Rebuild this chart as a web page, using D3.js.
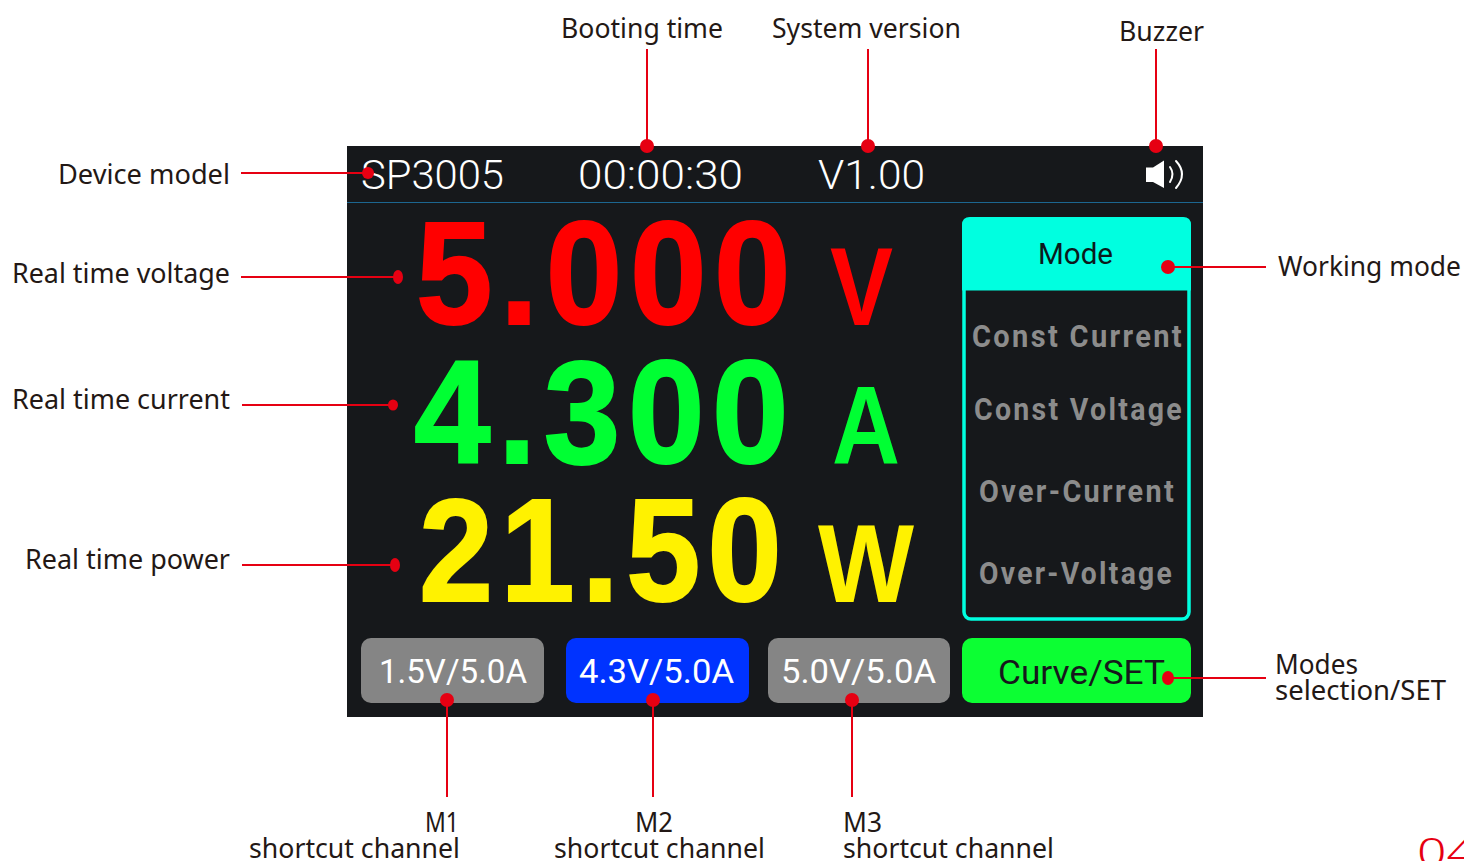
<!DOCTYPE html>
<html>
<head>
<meta charset="utf-8">
<script src="https://cdn.jsdelivr.net/npm/d3@7"></script>
<style>
html, body { margin: 0; padding: 0; background: #fff; overflow: hidden; }
svg { display: block; }
</style>
</head>
<body>
<svg id="graph" width="1464" height="861"></svg>
<script>
// values shown on the screen
const deviceModel = 'SP3005';
const bootTime = '00:00:30';
const sysVersion = 'V1.00';
const readings = [5.000, 4.300, 21.50];
const readingDigits = [3, 3, 2];
const units = ['V', 'A', 'W'];
const modeTitle = 'Mode';
const modes = ['Const Current', 'Const Voltage', 'Over-Current', 'Over-Voltage'];
const presets = ['1.5V/5.0A', '4.3V/5.0A', '5.0V/5.0A'];
const setLabel = 'Curve/SET';
const leftLabels = ['Device model', 'Real time voltage', 'Real time current', 'Real time power'];
const topLabels = ['Booting time', 'System version', 'Buzzer'];
const bottomLabels = ['M1', 'M2', 'M3'];
const bottomSub = 'shortcut channel';
const pageNumber = '04';

const RED = '#e60012';
const INK = '#231815';
const TEAL = '#00ffe0';
const LABEL_FONT = '"Noto Sans", sans-serif';
const SCREEN_FONT = 'Roboto, sans-serif';
const DIGIT_FONT = '"Liberation Sans", sans-serif';

const svg = d3.select('#graph');
const screen = svg.append('g');
const notes = svg.append('g');

// text squeezed to the width it has in the picture
function label(parent, str, x, y, w, size, fill, font, weight) {
  return parent.append('text')
    .attr('x', x)
    .attr('y', y)
    .attr('textLength', w)
    .attr('lengthAdjust', 'spacingAndGlyphs')
    .attr('font-family', font)
    .attr('font-size', size)
    .attr('font-weight', weight || 400)
    .attr('fill', fill)
    .text(str);
}

// screen background
screen.append('rect').attr('x', 347).attr('y', 146).attr('width', 856).attr('height', 571).attr('fill', '#16181b');
screen.append('rect').attr('x', 347).attr('y', 202).attr('width', 856).attr('height', 1).attr('fill', '#1c6690');

// top bar
label(screen, deviceModel, 361, 189, 143, 40, '#fff', SCREEN_FONT, 300);
label(screen, bootTime, 578, 189, 165, 40, '#fff', SCREEN_FONT, 300);
label(screen, sysVersion, 818, 189, 107, 40, '#fff', SCREEN_FONT, 300);

// buzzer icon
screen.append('path')
  .attr('d', 'M1146 167.5 L1153 167.5 L1164 160.5 L1164 188 L1153 182 L1146 182 Z')
  .attr('fill', '#fff');
screen.append('path')
  .attr('d', 'M1170 167 Q1175 174 1170 182 M1176 161 Q1188 174 1176 188')
  .attr('fill', 'none').attr('stroke', '#fff').attr('stroke-width', 2).attr('stroke-linecap', 'round');

// big readings, stroked a little because the original digits are heavier
const readingColors = ['#ff0000', '#00ff33', '#fff200'];
const readingLayout = [
  { x: 416, y: 324, w: 382, ux: 830, uw: 63 },
  { x: 414, y: 463, w: 382, ux: 832, uw: 68 },
  { x: 419, y: 601, w: 370, ux: 818, uw: 96 }
];
readings.forEach((v, i) => {
  const p = readingLayout[i];
  label(screen, d3.format(`.${readingDigits[i]}f`)(v), p.x, p.y, p.w, 146, readingColors[i], DIGIT_FONT, 700)
    .attr('letter-spacing', 8)
    .attr('stroke', readingColors[i])
    .attr('stroke-width', 2);
  label(screen, units[i], p.ux, p.y + 1, p.uw, 112, readingColors[i], DIGIT_FONT, 700);
});

// mode panel
screen.append('rect').attr('x', 964).attr('y', 219).attr('width', 225).attr('height', 400)
  .attr('rx', 7).attr('fill', 'none').attr('stroke', TEAL).attr('stroke-width', 3.5);
screen.append('path')
  .attr('d', 'M962 290.5 L962 225 Q962 217 970 217 L1183 217 Q1191 217 1191 225 L1191 290.5 Z')
  .attr('fill', TEAL);
label(screen, modeTitle, 1038, 264, 75, 29, '#0b1a1c', SCREEN_FONT, 400);

const modeLayout = [
  { x: 972, y: 347, w: 212 },
  { x: 974, y: 420, w: 210 },
  { x: 979, y: 502, w: 197 },
  { x: 979, y: 584, w: 195 }
];
modes.forEach((m, i) => {
  label(screen, m, modeLayout[i].x, modeLayout[i].y, modeLayout[i].w, 31, '#8c8c8c', SCREEN_FONT, 700)
    .attr('letter-spacing', 2.5);
});

// bottom buttons
const presetLayout = [
  { x: 361, w: 183, fill: '#858585', tx: 379, tw: 148 },
  { x: 566, w: 183, fill: '#0033ff', tx: 579, tw: 155 },
  { x: 768, w: 182, fill: '#858585', tx: 781, tw: 155 }
];
presets.forEach((t, i) => {
  const p = presetLayout[i];
  screen.append('rect').attr('x', p.x).attr('y', 638).attr('width', p.w).attr('height', 65).attr('rx', 10).attr('fill', p.fill);
  label(screen, t, p.tx, 683, p.tw, 34, '#fff', SCREEN_FONT, 400);
});
screen.append('rect').attr('x', 962).attr('y', 638).attr('width', 229).attr('height', 65).attr('rx', 10).attr('fill', '#0cff33');
label(screen, setLabel, 998, 684, 167, 34, '#16181b', SCREEN_FONT, 400);

// callouts
function callout(x1, y1, x2, y2, rx, ry) {
  notes.append('line')
    .attr('x1', x1).attr('y1', y1).attr('x2', x2).attr('y2', y2)
    .attr('stroke', RED).attr('stroke-width', 2);
  notes.append('ellipse')
    .attr('cx', x2).attr('cy', y2).attr('rx', rx).attr('ry', ry).attr('fill', RED);
}

callout(241, 173, 368, 173, 6, 6);
callout(241, 277, 398, 277, 5, 7);
callout(242, 405, 393, 405, 5, 5.5);
callout(242, 565, 395, 565, 5, 7);
callout(647, 49, 647, 146, 7, 7);
callout(868, 49, 868, 146, 7, 7);
callout(1156, 49, 1156, 146, 7, 7);
callout(1266, 267, 1168, 267, 7, 7);
callout(1266, 678, 1168, 678, 6, 7);
callout(447, 797, 447, 700, 7, 7);
callout(653, 797, 653, 700, 7, 7);
callout(852, 797, 852, 700, 7, 7);

const LS = 28;
[[58, 184, 172], [12, 283, 218], [12, 409, 218], [25, 569, 205]].forEach((p, i) => {
  label(notes, leftLabels[i], p[0], p[1], p[2], LS, INK, LABEL_FONT);
});
[[561, 38, 162], [772, 38, 189], [1119, 41, 85]].forEach((p, i) => {
  label(notes, topLabels[i], p[0], p[1], p[2], LS, INK, LABEL_FONT);
});
label(notes, 'Working mode', 1278, 276, 183, LS, INK, LABEL_FONT);
label(notes, 'Modes', 1275, 674, 83, LS, INK, LABEL_FONT);
label(notes, 'selection/SET', 1275, 700, 171, LS, INK, LABEL_FONT);

[[425, 34, 249], [635, 38, 554], [843, 39, 843]].forEach((p, i) => {
  label(notes, bottomLabels[i], p[0], 832, p[1], LS, INK, LABEL_FONT);
  label(notes, bottomSub, p[2], 858, 211, LS, INK, LABEL_FONT);
});

// page number, cut by the bottom of the page
label(notes, pageNumber, 1417, 866, 59, 38, RED, LABEL_FONT, 300);
</script>
</body>
</html>
